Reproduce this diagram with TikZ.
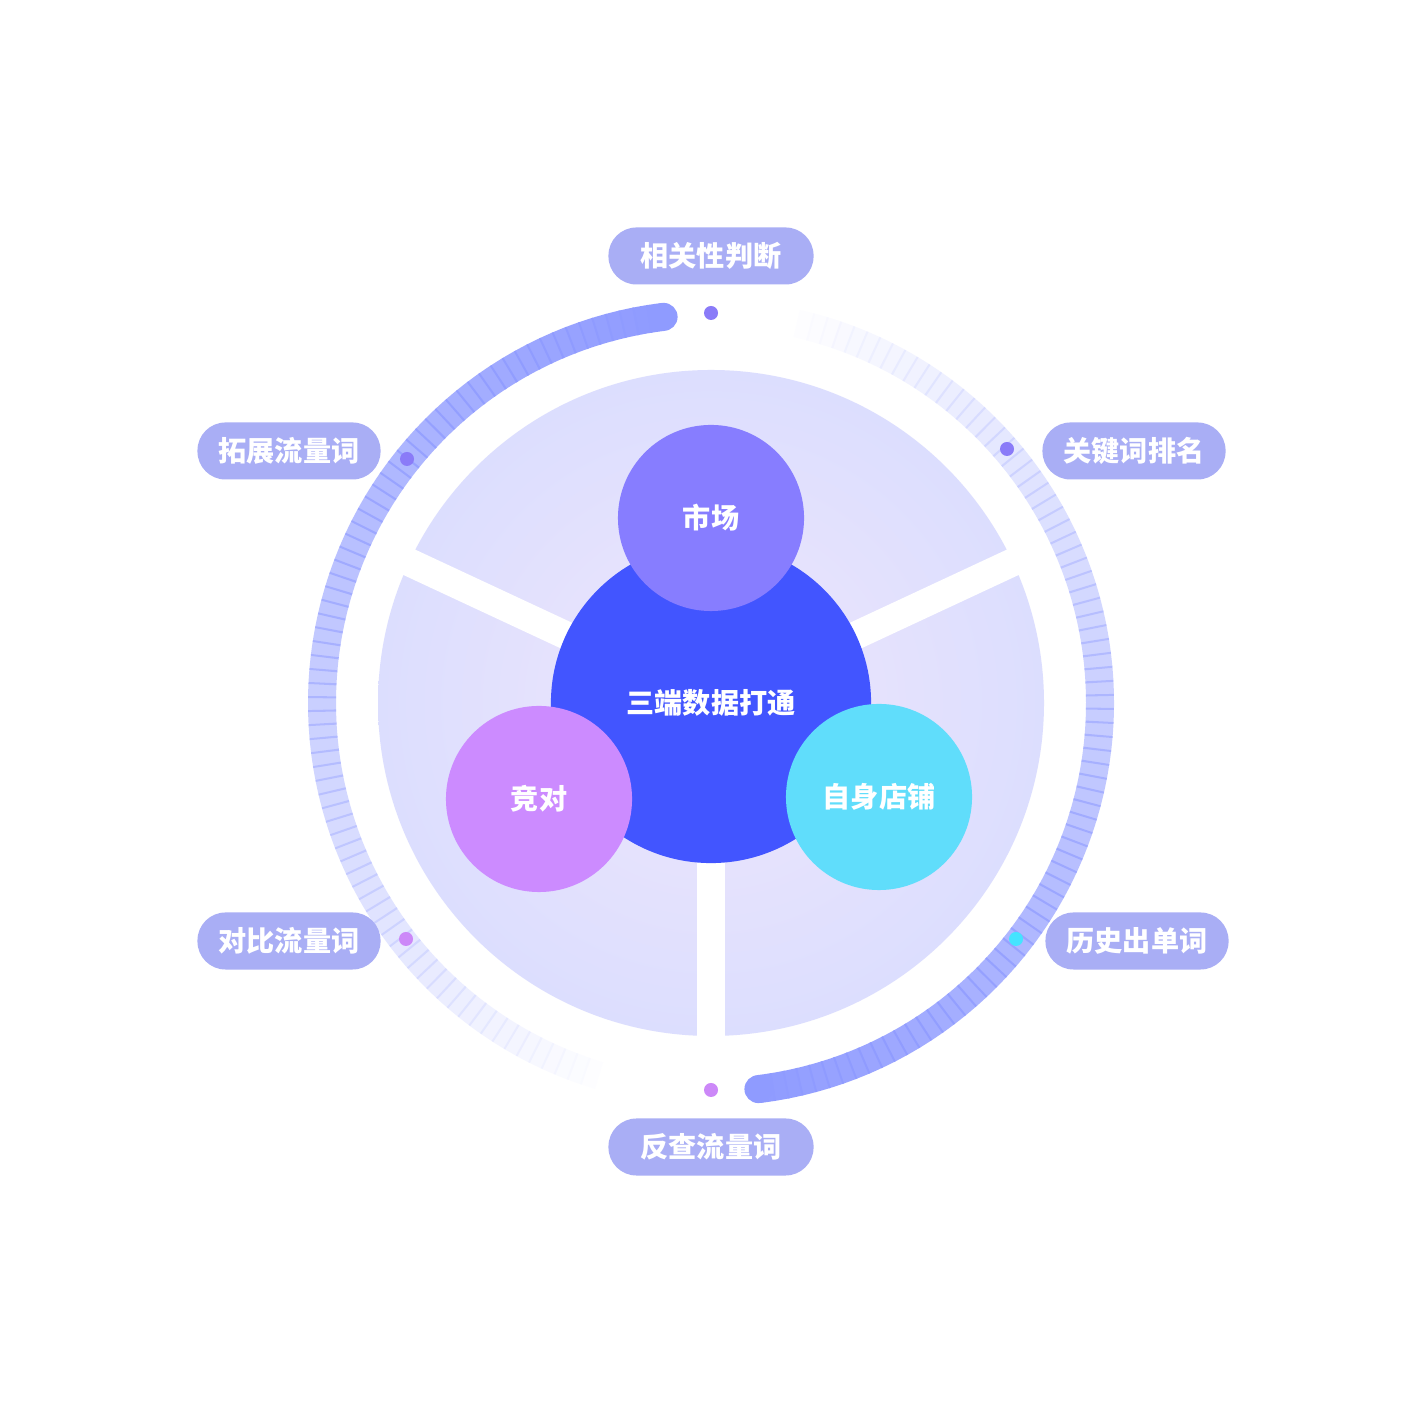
\documentclass[tikz,border=0pt]{standalone}
\usepackage{fontspec}
\setmainfont{Noto Sans CJK SC}
\usetikzlibrary{positioning}
\definecolor{ringc}{HTML}{8F9BFF}
\definecolor{pillc}{HTML}{A9AEF5}
\definecolor{discin}{HTML}{EEE6FC}
\definecolor{discout}{HTML}{DCDEFE}
\definecolor{corec}{HTML}{4255FF}
\definecolor{marketc}{HTML}{877DFF}
\definecolor{rivalc}{HTML}{CC8BFF}
\definecolor{shopc}{HTML}{60DDFB}
\definecolor{dotp}{HTML}{8A7BF8}
\definecolor{dotv}{HTML}{CC88F8}
\definecolor{dotc}{HTML}{44E4FF}
\begin{document}
\begin{tikzpicture}[x=0.01cm,y=0.01cm]
  \tikzstyle{pill}=[rectangle,rounded corners=0.28cm,fill=pillc,minimum width=2.05cm,minimum height=0.57cm,text=white,font=\fontsize{8}{9}\selectfont\bfseries]
  \tikzstyle{ball}=[circle,minimum size=1.86cm,text=white,font=\fontsize{8}{9}\selectfont\bfseries]
  \tikzstyle{dot}=[circle,inner sep=0pt,minimum size=0.14cm]
  \tikzstyle{gap}=[line width=0.28cm,white]

  \fill[white] (0,0) rectangle (1428,1428);
  \coordinate (c) at (711,725);

  % disc with three gaps
  \shade[inner color=discin,outer color=discout] (c) circle (333);
  \draw[gap] (c) -- ++(270:345);
  \draw[gap] (c) -- ++(155:345);
  \draw[gap] (c) -- ++(25:345);

  % outer ring, fading
  \foreach \a in {97,99,...,251}
    \draw[ringc,line width=0.28cm,opacity={1-(\a-97)/156}] ([shift={(\a:389)}]c) arc (\a:\a+2.3:389);
  \foreach \a in {277,279,...,437}
    \draw[ringc,line width=0.28cm,opacity={(437-\a)/162}] ([shift={(\a:389)}]c) arc (\a:\a+2.3:389);
  \fill[ringc] ([shift={(97:389)}]c) circle (14);
  \fill[ringc] ([shift={(277:389)}]c) circle (14);

  % circles
  \node[ball,fill=corec,minimum size=3.2cm] (core) at (c) {三端数据打通};
  \node[ball,fill=marketc] (market) at (711,910) {市场};
  \node[ball,fill=rivalc] (rival) at (539,629) {竞对};
  \node[ball,fill=shopc] (shop) at (879,631) {自身店铺};

  % dots and labels
  \node[dot,fill=dotp] (d1) at (711,1115) {};
  \node[dot,fill=dotp] (d2) at (407,969) {};
  \node[dot,fill=dotp] (d3) at (1007,979) {};
  \node[dot,fill=dotv] (d4) at (406,489) {};
  \node[dot,fill=dotc] (d5) at (1016,489) {};
  \node[dot,fill=dotv] (d6) at (711,338) {};

  \node[pill] (l1) at (711,1172) {相关性判断};
  \node[pill,minimum width=1.83cm] (l2) at (289,977) {拓展流量词};
  \node[pill,minimum width=1.83cm] (l3) at (1134,977) {关键词排名};
  \node[pill,minimum width=1.83cm] (l4) at (289,487) {对比流量词};
  \node[pill,minimum width=1.83cm] (l5) at (1137,487) {历史出单词};
  \node[pill] (l6) at (711,281) {反查流量词};
\end{tikzpicture}
\end{document}
